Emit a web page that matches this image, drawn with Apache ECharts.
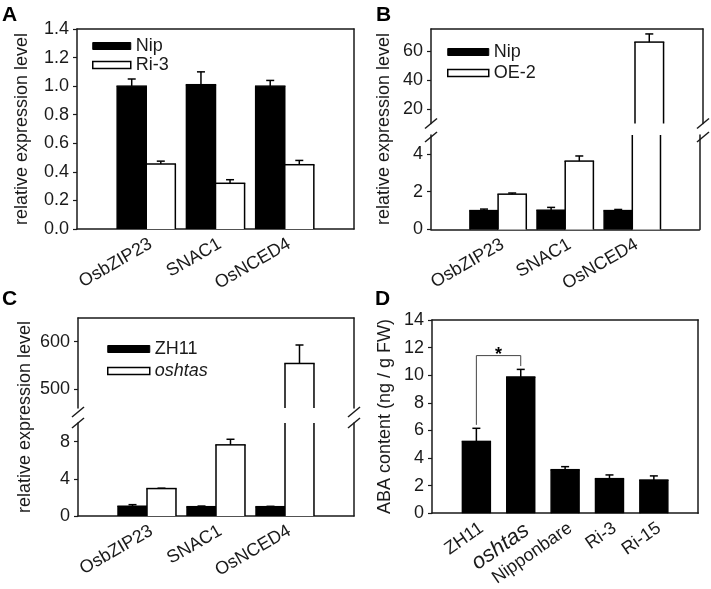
<!DOCTYPE html>
<html><head><meta charset="utf-8">
<script src="https://cdn.jsdelivr.net/npm/echarts@6/dist/echarts.min.js"></script>
<style>html,body{margin:0;padding:0;background:#fff}#c{width:711px;height:589px}</style>
</head><body><div id="c"></div>
<script>
// ---------------- data ----------------
const geneCats = ['', 'OsbZIP23', 'SNAC1', 'OsNCED4', ' '];
// Panel A
const nipA = [1.00, 1.01, 1.00];
const nipAErr = [0.05, 0.09, 0.04];
const ri3A = [0.455, 0.32, 0.45];
const ri3AErr = [0.02, 0.025, 0.03];
// Panel B
const nipB = [1.00, 1.02, 1.00];
const nipBErr = [0.08, 0.15, 0.06];
const oe2B = [1.87, 3.62, 66];
const oe2BErr = [0.06, 0.27, 5.6];
// Panel C
const zh11C = [1.05, 1.00, 1.00];
const zh11CErr = [0.17, 0.07, 0.04];
const oshtasC = [2.95, 7.65, 554];
const oshtasCErr = [0.04, 0.6, 39];
// Panel D
const lineCats = ['', 'ZH11', 'oshtas', 'Nipponbare', 'Ri-3', 'Ri-15', ' '];
const abaD = [5.2, 9.87, 3.15, 2.5, 2.4];
const abaDErr = [0.95, 0.55, 0.22, 0.27, 0.3];
// significance bracket: [leftCat, rightCat, leftFoot, rightFoot, top]
const sigD = [[1, 2, 6.4, 10.66, 11.42]];
// tick labels
const ticksA = [0, 0.2, 0.4, 0.6, 0.8, 1.0, 1.2, 1.4];
const ticksBLow = [0, 2, 4];
const ticksBHigh = [20, 40, 60];
const ticksCLow = [0, 4, 8];
const ticksCHigh = [500, 600];
const ticksD = [0, 2, 4, 6, 8, 10, 12, 14];

// ---------------- style / layout ----------------
const FONT = "'Liberation Sans', Arial, sans-serif";
const TXT = '#1a1a1a';
const LW = 1.5;
const G = {
  A:  {left: 77,  top: 29,  width: 277, height: 200},
  Bu: {left: 431, top: 29,  width: 272, height: 94.5},
  Bl: {left: 431, top: 135, width: 272, height: 94.5},
  Bn: {left: 431, top: 29,  width: 272, height: 200},
  Cu: {left: 78,  top: 318, width: 276, height: 90},
  Cl: {left: 78,  top: 423, width: 276, height: 93},
  Cn: {left: 78,  top: 318, width: 276, height: 198},
  D:  {left: 432, top: 320, width: 272, height: 196}
};

const grids = [], xAxes = [], yAxes = [], series = [];

function addGrid(rect, cats, o) {
  grids.push(Object.assign({containLabel: false}, rect));
  const gi = grids.length - 1;
  xAxes.push({
    gridIndex: gi, type: 'category', data: cats, boundaryGap: false, position: 'bottom',
    axisLine: {show: o.bottom, onZero: false, lineStyle: {color: TXT, width: LW}},
    axisTick: {show: false},
    axisLabel: o.labels ? {
      show: true, interval: 0, rotate: o.rotate || 30, margin: 6, verticalAlign: 'top',
      fontSize: 18, fontFamily: FONT, color: TXT,
      formatter: v => v === 'oshtas' ? '{i|oshtas}' : v,
      rich: {i: {fontStyle: 'italic', fontSize: 22, fontFamily: FONT, color: TXT, verticalAlign: 'top'}}
    } : {show: false},
    splitLine: {show: false}
  });
  const xi = xAxes.length - 1;
  xAxes.push({
    gridIndex: gi, type: 'category', data: cats, boundaryGap: false, position: 'top',
    axisLine: {show: o.top, onZero: false, lineStyle: {color: TXT, width: LW}},
    axisTick: {show: false}, axisLabel: {show: false}, splitLine: {show: false}
  });
  yAxes.push({
    gridIndex: gi, type: 'value', min: o.min, max: o.max, position: 'left',
    axisLine: {show: true, onZero: false, lineStyle: {color: TXT, width: LW}},
    axisTick: {show: true, inside: false, length: 4, customValues: o.ticks, lineStyle: {color: TXT, width: 1.2}},
    axisLabel: {show: true, customValues: o.ticks, margin: 8, fontSize: 18, fontFamily: FONT, color: TXT,
      formatter: o.fmt || (v => String(v))},
    splitLine: {show: false},
    name: o.name || '', nameLocation: 'middle', nameGap: o.nameGap || 40,
    nameTextStyle: {fontSize: 18, fontFamily: FONT, color: TXT}
  });
  const yi = yAxes.length - 1;
  yAxes.push({
    gridIndex: gi, type: 'value', min: o.min, max: o.max, position: 'right',
    axisLine: {show: true, onZero: false, lineStyle: {color: TXT, width: LW}},
    axisTick: {show: false}, axisLabel: {show: false}, splitLine: {show: false}
  });
  return {xi, yi};
}

function addNameGrid(rect, name, gap) {
  grids.push(Object.assign({}, rect));
  const gi = grids.length - 1;
  xAxes.push({gridIndex: gi, type: 'value', show: false});
  yAxes.push({gridIndex: gi, type: 'value', min: 0, max: 1, position: 'left',
    axisLine: {show: false}, axisTick: {show: false}, axisLabel: {show: false}, splitLine: {show: false},
    name, nameLocation: 'middle', nameGap: gap,
    nameTextStyle: {fontSize: 18, fontFamily: FONT, color: TXT}});
}

function seg(x1, y1, x2, y2, w) {
  return {type: 'line', shape: {x1, y1, x2, y2}, style: {stroke: '#000', lineWidth: w || LW}};
}

function barSeries(name, ax, vals, sign, color, yMin, yMax, frac) {
  return {
    type: 'custom', name, xAxisIndex: ax.xi, yAxisIndex: ax.yi, clip: false, z: 2,
    itemStyle: {color},
    data: vals.map((v, i) => [i + 1, v]),
    renderItem: (params, api) => {
      const cat = api.value(0), v = api.value(1);
      const lo = Math.max(0, yMin), hi = Math.min(v, yMax);
      if (hi <= lo) return null;
      const w = api.size([1, 0])[0] * frac;
      const pb = api.coord([cat, lo]), pt = api.coord([cat, hi]);
      const x0 = sign < 0 ? pb[0] - w : (sign > 0 ? pb[0] : pb[0] - w / 2);
      const x1 = x0 + w;
      const ch = [{type: 'rect', shape: {x: x0, y: pt[1], width: w, height: pb[1] - pt[1]}, style: {fill: color}}];
      ch.push(seg(x0, pb[1], x0, pt[1]));
      ch.push(seg(x1, pb[1], x1, pt[1]));
      if (hi === v) ch.push(seg(x0 - 0.7, pt[1], x1 + 0.7, pt[1]));
      return {type: 'group', children: ch};
    }
  };
}

function errSeries(ax, vals, errs, sign, yMin, yMax, frac) {
  return {
    type: 'custom', xAxisIndex: ax.xi, yAxisIndex: ax.yi, clip: false, z: 3,
    data: vals.map((v, i) => [i + 1, v, errs[i]]),
    renderItem: (params, api) => {
      const cat = api.value(0), v = api.value(1), e = api.value(2);
      if (v < yMin || v > yMax) return null;
      const hi = Math.min(v + e, yMax);
      const w = api.size([1, 0])[0] * frac;
      const p0 = api.coord([cat, v]), p1 = api.coord([cat, hi]);
      const xc = p0[0] + sign * w / 2;
      const ch = [seg(xc, p0[1], xc, p1[1])];
      if (v + e <= yMax) ch.push(seg(xc - 4, p1[1], xc + 4, p1[1]));
      return {type: 'group', children: ch};
    }
  };
}

// ---------------- Panel A ----------------
const aA = addGrid(G.A, geneCats, {bottom: true, top: true, labels: true, min: 0, max: 1.4, ticks: ticksA,
  fmt: v => v.toFixed(1), name: 'relative expression level', nameGap: 46});
series.push(barSeries('Nip', aA, nipA, -1, '#000', 0, 1.4, 0.42));
series.push(barSeries('Ri-3', aA, ri3A, 1, '#fff', 0, 1.4, 0.42));
series.push(errSeries(aA, nipA, nipAErr, -1, 0, 1.4, 0.42));
series.push(errSeries(aA, ri3A, ri3AErr, 1, 0, 1.4, 0.42));

// ---------------- Panel B ----------------
const bU = addGrid(G.Bu, geneCats, {bottom: false, top: true, labels: false, min: 10, max: 75, ticks: ticksBHigh});
const bL = addGrid(G.Bl, geneCats, {bottom: true, top: false, labels: true, min: 0, max: 5, ticks: ticksBLow});
addNameGrid(G.Bn, 'relative expression level', 38);
[[bU, 10, 75], [bL, 0, 5]].forEach(([ax, mn, mx]) => {
  series.push(barSeries('Nip', ax, nipB, -1, '#000', mn, mx, 0.42));
  series.push(barSeries('OE-2', ax, oe2B, 1, '#fff', mn, mx, 0.42));
  series.push(errSeries(ax, nipB, nipBErr, -1, mn, mx, 0.42));
  series.push(errSeries(ax, oe2B, oe2BErr, 1, mn, mx, 0.42));
});

// ---------------- Panel C ----------------
const cU = addGrid(G.Cu, geneCats, {bottom: false, top: true, labels: false, min: 460, max: 650, ticks: ticksCHigh});
const cL = addGrid(G.Cl, geneCats, {bottom: true, top: false, labels: true, min: 0, max: 10, ticks: ticksCLow});
addNameGrid(G.Cn, 'relative expression level', 44);
[[cU, 460, 650], [cL, 0, 10]].forEach(([ax, mn, mx]) => {
  series.push(barSeries('ZH11', ax, zh11C, -1, '#000', mn, mx, 0.42));
  series.push(barSeries('oshtas', ax, oshtasC, 1, '#fff', mn, mx, 0.42));
  series.push(errSeries(ax, zh11C, zh11CErr, -1, mn, mx, 0.42));
  series.push(errSeries(ax, oshtasC, oshtasCErr, 1, mn, mx, 0.42));
});

// ---------------- Panel D ----------------
const dA = addGrid(G.D, lineCats, {bottom: true, top: true, labels: true, rotate: 35, min: 0, max: 14, ticks: ticksD,
  name: 'ABA content (ng / g FW)', nameGap: 38});
series.push(barSeries('ABA', dA, abaD, 0, '#000', 0, 14, 0.63));
series.push(errSeries(dA, abaD, abaDErr, 0, 0, 14, 0.63));
series.push({
  type: 'custom', xAxisIndex: dA.xi, yAxisIndex: dA.yi, clip: false, z: 4,
  data: sigD,
  renderItem: (params, api) => {
    const a = api.value(0), b = api.value(1);
    const pl = api.coord([a, api.value(2)]), pr = api.coord([b, api.value(3)]);
    const tl = api.coord([a, api.value(4)]), tr = api.coord([b, api.value(4)]);
    return {type: 'group', children: [
      {type: 'polyline', shape: {points: [pl, tl, tr, pr]}, style: {stroke: '#444', lineWidth: 1, fill: null}},
      {type: 'text', style: {text: '*', x: (tl[0] + tr[0]) / 2, y: tl[1] + 8, align: 'center', verticalAlign: 'bottom',
        font: 'bold 18px ' + FONT, fill: '#000'}}
    ]};
  }
});

// ---------------- breaks ----------------
function slash(x, y) {
  return {type: 'line', shape: {x1: x - 6, y1: y + 5, x2: x + 6, y2: y - 5}, style: {stroke: TXT, lineWidth: LW}, z: 10};
}
const graphic = [
  slash(G.Bu.left, 123.5), slash(G.Bu.left, 137),
  slash(G.Bu.left + G.Bu.width, 123.5), slash(G.Bu.left + G.Bu.width, 137),
  slash(G.Cu.left, 412), slash(G.Cu.left, 423),
  slash(G.Cu.left + G.Cu.width, 412), slash(G.Cu.left + G.Cu.width, 423)
];

// ---------------- legends / titles ----------------
const ts = {fontSize: 18, fontFamily: FONT, color: TXT};
const blk = {color: '#000', borderColor: '#000', borderWidth: 1};
const wht = {color: '#fff', borderColor: '#000', borderWidth: 1.5};
const legend = [
  {left: 87, top: 32, orient: 'vertical', itemWidth: 38, itemHeight: 7, itemGap: 1, selectedMode: false, icon: 'rect',
   textStyle: ts, data: [{name: 'Nip', itemStyle: blk}, {name: 'Ri-3', itemStyle: wht}]},
  {left: 442, top: 38, orient: 'vertical', itemWidth: 41, itemHeight: 7, itemGap: 3, selectedMode: false, icon: 'rect',
   textStyle: ts, data: [{name: 'Nip', itemStyle: blk}, {name: 'OE-2', itemStyle: wht}]},
  {left: 102, top: 335, orient: 'vertical', itemWidth: 42, itemHeight: 7, itemGap: 4, selectedMode: false, icon: 'rect',
   textStyle: ts, data: [{name: 'ZH11', itemStyle: blk}, {name: 'oshtas', itemStyle: wht, textStyle: {fontStyle: 'italic'}}]}
];
const tstyle = {fontSize: 21, fontWeight: 'bold', fontFamily: FONT, color: '#000'};
const title = [
  {text: 'A', left: 2, top: 5, padding: 0, textStyle: tstyle},
  {text: 'B', left: 376, top: 5, padding: 0, textStyle: tstyle},
  {text: 'C', left: 2, top: 289, padding: 0, textStyle: tstyle},
  {text: 'D', left: 375, top: 289, padding: 0, textStyle: tstyle}
];

const chart = echarts.init(document.getElementById('c'), null, {renderer: 'canvas'});
chart.setOption({
  animation: false,
  backgroundColor: '#fff',
  textStyle: {fontFamily: FONT},
  title, legend, grid: grids, xAxis: xAxes, yAxis: yAxes, series, graphic
});
</script></body></html>
